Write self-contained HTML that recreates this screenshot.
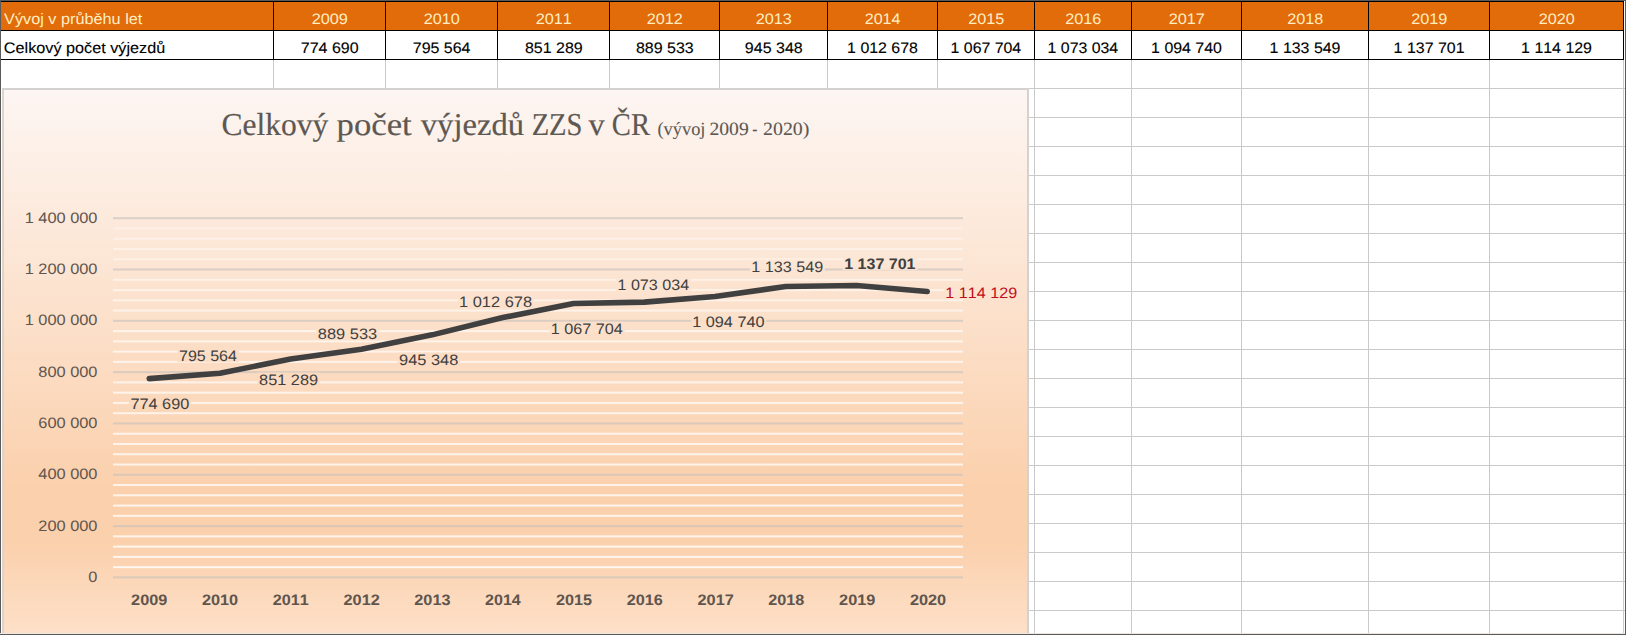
<!DOCTYPE html>
<html><head><meta charset="utf-8"><title>Celkový počet výjezdů ZZS v ČR</title>
<style>html,body{margin:0;padding:0;background:#fff;width:1626px;height:635px;overflow:hidden;font-family:"Liberation Sans",sans-serif;}</style>
</head><body>
<svg width="1626" height="635" viewBox="0 0 1626 635" style="display:block;font-kerning:none;text-rendering:geometricPrecision"><rect x="0" y="0" width="1626" height="635" fill="#ffffff"/>
<rect x="2" y="88" width="1624" height="1" fill="#cacaca"/>
<rect x="2" y="117" width="1624" height="1" fill="#cacaca"/>
<rect x="2" y="146" width="1624" height="1" fill="#cacaca"/>
<rect x="2" y="175" width="1624" height="1" fill="#cacaca"/>
<rect x="2" y="204" width="1624" height="1" fill="#cacaca"/>
<rect x="2" y="233" width="1624" height="1" fill="#cacaca"/>
<rect x="2" y="262" width="1624" height="1" fill="#cacaca"/>
<rect x="2" y="291" width="1624" height="1" fill="#cacaca"/>
<rect x="2" y="320" width="1624" height="1" fill="#cacaca"/>
<rect x="2" y="349" width="1624" height="1" fill="#cacaca"/>
<rect x="2" y="378" width="1624" height="1" fill="#cacaca"/>
<rect x="2" y="407" width="1624" height="1" fill="#cacaca"/>
<rect x="2" y="436" width="1624" height="1" fill="#cacaca"/>
<rect x="2" y="465" width="1624" height="1" fill="#cacaca"/>
<rect x="2" y="494" width="1624" height="1" fill="#cacaca"/>
<rect x="2" y="523" width="1624" height="1" fill="#cacaca"/>
<rect x="2" y="552" width="1624" height="1" fill="#cacaca"/>
<rect x="2" y="581" width="1624" height="1" fill="#cacaca"/>
<rect x="2" y="610" width="1624" height="1" fill="#cacaca"/>
<rect x="273" y="59" width="1" height="576" fill="#cacaca"/>
<rect x="385" y="59" width="1" height="576" fill="#cacaca"/>
<rect x="497" y="59" width="1" height="576" fill="#cacaca"/>
<rect x="609" y="59" width="1" height="576" fill="#cacaca"/>
<rect x="719" y="59" width="1" height="576" fill="#cacaca"/>
<rect x="827" y="59" width="1" height="576" fill="#cacaca"/>
<rect x="937" y="59" width="1" height="576" fill="#cacaca"/>
<rect x="1034" y="59" width="1" height="576" fill="#cacaca"/>
<rect x="1131" y="59" width="1" height="576" fill="#cacaca"/>
<rect x="1241" y="59" width="1" height="576" fill="#cacaca"/>
<rect x="1368" y="59" width="1" height="576" fill="#cacaca"/>
<rect x="1489" y="59" width="1" height="576" fill="#cacaca"/>
<rect x="1623" y="59" width="1" height="576" fill="#cacaca"/>
<rect x="1" y="1" width="1622" height="30" fill="#e26b0a"/>
<rect x="1" y="1" width="1623" height="1" fill="#000"/>
<rect x="1" y="30" width="1623" height="1" fill="#000"/>
<rect x="1" y="59" width="1623" height="1" fill="#000"/>
<rect x="273" y="1" width="1" height="59" fill="#000"/>
<rect x="385" y="1" width="1" height="59" fill="#000"/>
<rect x="497" y="1" width="1" height="59" fill="#000"/>
<rect x="609" y="1" width="1" height="59" fill="#000"/>
<rect x="719" y="1" width="1" height="59" fill="#000"/>
<rect x="827" y="1" width="1" height="59" fill="#000"/>
<rect x="937" y="1" width="1" height="59" fill="#000"/>
<rect x="1034" y="1" width="1" height="59" fill="#000"/>
<rect x="1131" y="1" width="1" height="59" fill="#000"/>
<rect x="1241" y="1" width="1" height="59" fill="#000"/>
<rect x="1368" y="1" width="1" height="59" fill="#000"/>
<rect x="1489" y="1" width="1" height="59" fill="#000"/>
<rect x="1623" y="1" width="1" height="59" fill="#000"/>
<text x="4.13" y="24.10" font-size="15.20" font-family="Liberation Sans" fill="#fff0c4" textLength="138.19" lengthAdjust="spacingAndGlyphs">Vývoj v průběhu let</text>
<text x="3.88" y="52.70" font-size="15.20" font-family="Liberation Sans" fill="#000" textLength="161.30" lengthAdjust="spacingAndGlyphs" stroke="#000" stroke-width="0.12">Celkový počet výjezdů</text>
<text x="311.68" y="23.90" font-size="15.20" font-family="Liberation Sans" fill="#fff0c4" textLength="36.19" lengthAdjust="spacingAndGlyphs">2009</text>
<text x="300.78" y="52.70" font-size="15.20" font-family="Liberation Sans" fill="#000" textLength="57.85" lengthAdjust="spacingAndGlyphs" stroke="#000" stroke-width="0.12">774 690</text>
<text x="423.69" y="23.90" font-size="15.20" font-family="Liberation Sans" fill="#fff0c4" textLength="36.05" lengthAdjust="spacingAndGlyphs">2010</text>
<text x="412.78" y="52.70" font-size="15.20" font-family="Liberation Sans" fill="#000" textLength="57.69" lengthAdjust="spacingAndGlyphs" stroke="#000" stroke-width="0.12">795 564</text>
<text x="535.68" y="23.90" font-size="15.20" font-family="Liberation Sans" fill="#fff0c4" textLength="36.21" lengthAdjust="spacingAndGlyphs">2011</text>
<text x="524.90" y="52.70" font-size="15.20" font-family="Liberation Sans" fill="#000" textLength="57.85" lengthAdjust="spacingAndGlyphs" stroke="#000" stroke-width="0.12">851 289</text>
<text x="646.68" y="23.90" font-size="15.20" font-family="Liberation Sans" fill="#fff0c4" textLength="36.24" lengthAdjust="spacingAndGlyphs">2012</text>
<text x="635.91" y="52.70" font-size="15.20" font-family="Liberation Sans" fill="#000" textLength="57.80" lengthAdjust="spacingAndGlyphs" stroke="#000" stroke-width="0.12">889 533</text>
<text x="755.68" y="23.90" font-size="15.20" font-family="Liberation Sans" fill="#fff0c4" textLength="36.13" lengthAdjust="spacingAndGlyphs">2013</text>
<text x="744.85" y="52.70" font-size="15.20" font-family="Liberation Sans" fill="#000" textLength="57.85" lengthAdjust="spacingAndGlyphs" stroke="#000" stroke-width="0.12">945 348</text>
<text x="864.69" y="23.90" font-size="15.20" font-family="Liberation Sans" fill="#fff0c4" textLength="35.88" lengthAdjust="spacingAndGlyphs">2014</text>
<text x="847.14" y="52.70" font-size="15.20" font-family="Liberation Sans" fill="#000" textLength="70.80" lengthAdjust="spacingAndGlyphs" stroke="#000" stroke-width="0.12">1 012 678</text>
<text x="968.18" y="23.90" font-size="15.20" font-family="Liberation Sans" fill="#fff0c4" textLength="36.10" lengthAdjust="spacingAndGlyphs">2015</text>
<text x="950.64" y="52.70" font-size="15.20" font-family="Liberation Sans" fill="#000" textLength="70.57" lengthAdjust="spacingAndGlyphs" stroke="#000" stroke-width="0.12">1 067 704</text>
<text x="1065.18" y="23.90" font-size="15.20" font-family="Liberation Sans" fill="#fff0c4" textLength="36.13" lengthAdjust="spacingAndGlyphs">2016</text>
<text x="1047.64" y="52.70" font-size="15.20" font-family="Liberation Sans" fill="#000" textLength="70.57" lengthAdjust="spacingAndGlyphs" stroke="#000" stroke-width="0.12">1 073 034</text>
<text x="1168.68" y="23.90" font-size="15.20" font-family="Liberation Sans" fill="#fff0c4" textLength="36.24" lengthAdjust="spacingAndGlyphs">2017</text>
<text x="1151.14" y="52.70" font-size="15.20" font-family="Liberation Sans" fill="#000" textLength="70.73" lengthAdjust="spacingAndGlyphs" stroke="#000" stroke-width="0.12">1 094 740</text>
<text x="1287.18" y="23.90" font-size="15.20" font-family="Liberation Sans" fill="#fff0c4" textLength="36.12" lengthAdjust="spacingAndGlyphs">2018</text>
<text x="1269.64" y="52.70" font-size="15.20" font-family="Liberation Sans" fill="#000" textLength="70.87" lengthAdjust="spacingAndGlyphs" stroke="#000" stroke-width="0.12">1 133 549</text>
<text x="1411.18" y="23.90" font-size="15.20" font-family="Liberation Sans" fill="#fff0c4" textLength="36.19" lengthAdjust="spacingAndGlyphs">2019</text>
<text x="1393.64" y="52.70" font-size="15.20" font-family="Liberation Sans" fill="#000" textLength="70.89" lengthAdjust="spacingAndGlyphs" stroke="#000" stroke-width="0.12">1 137 701</text>
<text x="1538.69" y="23.90" font-size="15.20" font-family="Liberation Sans" fill="#fff0c4" textLength="36.05" lengthAdjust="spacingAndGlyphs">2020</text>
<text x="1521.14" y="52.70" font-size="15.20" font-family="Liberation Sans" fill="#000" textLength="70.87" lengthAdjust="spacingAndGlyphs" stroke="#000" stroke-width="0.12">1 114 129</text>
<defs><linearGradient id="bg" gradientUnits="userSpaceOnUse" x1="0" y1="88" x2="0" y2="633"><stop offset="0" stop-color="#fdf6f3"/><stop offset="0.74" stop-color="#fbd0ac"/><stop offset="0.83" stop-color="#fbd0ac"/><stop offset="1" stop-color="#fde0c8"/></linearGradient><linearGradient id="mg" gradientUnits="userSpaceOnUse" x1="0" y1="218" x2="0" y2="578"><stop offset="0" stop-color="#fff" stop-opacity="0.3"/><stop offset="0.3" stop-color="#fff" stop-opacity="0.65"/><stop offset="1" stop-color="#fff" stop-opacity="0.8"/></linearGradient></defs>
<rect x="2" y="88" width="1027" height="545" fill="#d4d2d0"/>
<rect x="2" y="90" width="2" height="543" fill="#ddd4ce"/>
<rect x="4" y="90" width="1023" height="543" fill="url(#bg)"/>
<text x="221.61" y="134.60" font-size="31.80" font-family="Liberation Serif" fill="#5d5853" textLength="106.71" lengthAdjust="spacingAndGlyphs" stroke="#5d5853" stroke-width="0.2">Celkový</text>
<text x="336.64" y="134.60" font-size="31.80" font-family="Liberation Serif" fill="#5d5853" textLength="75.06" lengthAdjust="spacingAndGlyphs" stroke="#5d5853" stroke-width="0.2">počet</text>
<text x="420.80" y="134.60" font-size="31.80" font-family="Liberation Serif" fill="#5d5853" textLength="103.26" lengthAdjust="spacingAndGlyphs" stroke="#5d5853" stroke-width="0.2">výjezdů</text>
<text x="531.63" y="134.60" font-size="31.80" font-family="Liberation Serif" fill="#5d5853" textLength="50.84" lengthAdjust="spacingAndGlyphs" stroke="#5d5853" stroke-width="0.2">ZZS</text>
<text x="588.40" y="134.60" font-size="31.80" font-family="Liberation Serif" fill="#5d5853" textLength="16.10" lengthAdjust="spacingAndGlyphs" stroke="#5d5853" stroke-width="0.2">v</text>
<text x="611.83" y="134.60" font-size="31.80" font-family="Liberation Serif" fill="#5d5853" textLength="38.11" lengthAdjust="spacingAndGlyphs" stroke="#5d5853" stroke-width="0.2">ČR</text>
<text x="657.49" y="134.60" font-size="18.70" font-family="Liberation Serif" fill="#5d5853" textLength="47.99" lengthAdjust="spacingAndGlyphs" stroke="#5d5853" stroke-width="0.1">(vývoj</text>
<text x="709.44" y="134.60" font-size="18.70" font-family="Liberation Serif" fill="#5d5853" textLength="39.27" lengthAdjust="spacingAndGlyphs" stroke="#5d5853" stroke-width="0.1">2009</text>
<text x="752.13" y="134.60" font-size="18.70" font-family="Liberation Serif" fill="#5d5853" textLength="5.13" lengthAdjust="spacingAndGlyphs" stroke="#5d5853" stroke-width="0.1">-</text>
<text x="763.03" y="134.60" font-size="18.70" font-family="Liberation Serif" fill="#5d5853" textLength="46.45" lengthAdjust="spacingAndGlyphs" stroke="#5d5853" stroke-width="0.1">2020)</text>
<rect x="113" y="566.14" width="850" height="2" fill="url(#mg)"/>
<rect x="113" y="555.87" width="850" height="2" fill="url(#mg)"/>
<rect x="113" y="545.61" width="850" height="2" fill="url(#mg)"/>
<rect x="113" y="535.35" width="850" height="2" fill="url(#mg)"/>
<rect x="113" y="514.82" width="850" height="2" fill="url(#mg)"/>
<rect x="113" y="504.56" width="850" height="2" fill="url(#mg)"/>
<rect x="113" y="494.30" width="850" height="2" fill="url(#mg)"/>
<rect x="113" y="484.03" width="850" height="2" fill="url(#mg)"/>
<rect x="113" y="463.51" width="850" height="2" fill="url(#mg)"/>
<rect x="113" y="453.25" width="850" height="2" fill="url(#mg)"/>
<rect x="113" y="442.98" width="850" height="2" fill="url(#mg)"/>
<rect x="113" y="432.72" width="850" height="2" fill="url(#mg)"/>
<rect x="113" y="412.19" width="850" height="2" fill="url(#mg)"/>
<rect x="113" y="401.93" width="850" height="2" fill="url(#mg)"/>
<rect x="113" y="391.67" width="850" height="2" fill="url(#mg)"/>
<rect x="113" y="381.41" width="850" height="2" fill="url(#mg)"/>
<rect x="113" y="360.88" width="850" height="2" fill="url(#mg)"/>
<rect x="113" y="350.62" width="850" height="2" fill="url(#mg)"/>
<rect x="113" y="340.35" width="850" height="2" fill="url(#mg)"/>
<rect x="113" y="330.09" width="850" height="2" fill="url(#mg)"/>
<rect x="113" y="309.57" width="850" height="2" fill="url(#mg)"/>
<rect x="113" y="299.30" width="850" height="2" fill="url(#mg)"/>
<rect x="113" y="289.04" width="850" height="2" fill="url(#mg)"/>
<rect x="113" y="278.78" width="850" height="2" fill="url(#mg)"/>
<rect x="113" y="258.25" width="850" height="2" fill="url(#mg)"/>
<rect x="113" y="247.99" width="850" height="2" fill="url(#mg)"/>
<rect x="113" y="237.73" width="850" height="2" fill="url(#mg)"/>
<rect x="113" y="227.46" width="850" height="2" fill="url(#mg)"/>
<rect x="113" y="576.40" width="850" height="2" fill="#c4c0bc" fill-opacity="0.6"/>
<rect x="113" y="525.09" width="850" height="2" fill="#c4c0bc" fill-opacity="0.6"/>
<rect x="113" y="473.77" width="850" height="2" fill="#c4c0bc" fill-opacity="0.6"/>
<rect x="113" y="422.46" width="850" height="2" fill="#c4c0bc" fill-opacity="0.6"/>
<rect x="113" y="371.14" width="850" height="2" fill="#c4c0bc" fill-opacity="0.6"/>
<rect x="113" y="319.83" width="850" height="2" fill="#c4c0bc" fill-opacity="0.6"/>
<rect x="113" y="268.51" width="850" height="2" fill="#c4c0bc" fill-opacity="0.6"/>
<rect x="113" y="217.20" width="850" height="2" fill="#c4c0bc" fill-opacity="0.6"/>
<!--y-->
<text x="88.34" y="581.90" font-size="15.10" font-family="Liberation Sans" fill="#5f554d" textLength="9.10" lengthAdjust="spacingAndGlyphs">0</text>
<!--y-->
<text x="38.30" y="530.59" font-size="15.10" font-family="Liberation Sans" fill="#5f554d" textLength="59.14" lengthAdjust="spacingAndGlyphs">200 000</text>
<!--y-->
<text x="38.30" y="479.27" font-size="15.10" font-family="Liberation Sans" fill="#5f554d" textLength="59.14" lengthAdjust="spacingAndGlyphs">400 000</text>
<!--y-->
<text x="38.30" y="427.96" font-size="15.10" font-family="Liberation Sans" fill="#5f554d" textLength="59.14" lengthAdjust="spacingAndGlyphs">600 000</text>
<!--y-->
<text x="38.30" y="376.64" font-size="15.10" font-family="Liberation Sans" fill="#5f554d" textLength="59.14" lengthAdjust="spacingAndGlyphs">800 000</text>
<!--y-->
<text x="24.65" y="325.33" font-size="15.10" font-family="Liberation Sans" fill="#5f554d" textLength="72.79" lengthAdjust="spacingAndGlyphs">1 000 000</text>
<!--y-->
<text x="24.65" y="274.01" font-size="15.10" font-family="Liberation Sans" fill="#5f554d" textLength="72.79" lengthAdjust="spacingAndGlyphs">1 200 000</text>
<!--y-->
<text x="24.65" y="222.70" font-size="15.10" font-family="Liberation Sans" fill="#5f554d" textLength="72.79" lengthAdjust="spacingAndGlyphs">1 400 000</text>
<text x="131.14" y="604.80" font-size="15.10" font-family="Liberation Sans" font-weight="bold" fill="#5f554d" textLength="36.17" lengthAdjust="spacingAndGlyphs">2009</text>
<text x="201.94" y="604.80" font-size="15.10" font-family="Liberation Sans" font-weight="bold" fill="#5f554d" textLength="36.23" lengthAdjust="spacingAndGlyphs">2010</text>
<text x="272.74" y="604.80" font-size="15.10" font-family="Liberation Sans" font-weight="bold" fill="#5f554d" textLength="36.01" lengthAdjust="spacingAndGlyphs">2011</text>
<text x="343.54" y="604.80" font-size="15.10" font-family="Liberation Sans" font-weight="bold" fill="#5f554d" textLength="36.22" lengthAdjust="spacingAndGlyphs">2012</text>
<text x="414.34" y="604.80" font-size="15.10" font-family="Liberation Sans" font-weight="bold" fill="#5f554d" textLength="36.15" lengthAdjust="spacingAndGlyphs">2013</text>
<text x="485.14" y="604.80" font-size="15.10" font-family="Liberation Sans" font-weight="bold" fill="#5f554d" textLength="35.64" lengthAdjust="spacingAndGlyphs">2014</text>
<text x="555.94" y="604.80" font-size="15.10" font-family="Liberation Sans" font-weight="bold" fill="#5f554d" textLength="36.01" lengthAdjust="spacingAndGlyphs">2015</text>
<text x="626.74" y="604.80" font-size="15.10" font-family="Liberation Sans" font-weight="bold" fill="#5f554d" textLength="36.15" lengthAdjust="spacingAndGlyphs">2016</text>
<text x="697.53" y="604.80" font-size="15.10" font-family="Liberation Sans" font-weight="bold" fill="#5f554d" textLength="36.28" lengthAdjust="spacingAndGlyphs">2017</text>
<text x="768.34" y="604.80" font-size="15.10" font-family="Liberation Sans" font-weight="bold" fill="#5f554d" textLength="36.06" lengthAdjust="spacingAndGlyphs">2018</text>
<text x="839.14" y="604.80" font-size="15.10" font-family="Liberation Sans" font-weight="bold" fill="#5f554d" textLength="36.17" lengthAdjust="spacingAndGlyphs">2019</text>
<text x="909.94" y="604.80" font-size="15.10" font-family="Liberation Sans" font-weight="bold" fill="#5f554d" textLength="36.23" lengthAdjust="spacingAndGlyphs">2020</text>
<polyline points="149.20,378.64 219.93,373.28 290.66,358.98 361.39,349.17 432.12,334.85 502.85,317.58 573.58,303.46 644.31,302.09 715.04,296.52 785.77,286.56 856.50,285.50 927.23,291.55" fill="none" stroke="#404040" stroke-width="5.6" stroke-linecap="round" stroke-linejoin="round"/>
<rect x="128.8" y="396.4" width="62.3" height="13.7" fill="url(#bg)" fill-opacity="0.85"/>
<rect x="177.3" y="348.6" width="61.7" height="13.7" fill="url(#bg)" fill-opacity="0.85"/>
<rect x="257.3" y="372.5" width="62.5" height="13.7" fill="url(#bg)" fill-opacity="0.85"/>
<rect x="316.1" y="326.5" width="62.8" height="13.7" fill="url(#bg)" fill-opacity="0.85"/>
<rect x="397.3" y="352.7" width="62.8" height="13.7" fill="url(#bg)" fill-opacity="0.85"/>
<rect x="457.8" y="294.6" width="76.1" height="13.7" fill="url(#bg)" fill-opacity="0.85"/>
<rect x="549.5" y="321.7" width="75.3" height="13.7" fill="url(#bg)" fill-opacity="0.85"/>
<rect x="616.2" y="277.8" width="75.0" height="13.7" fill="url(#bg)" fill-opacity="0.85"/>
<rect x="691.0" y="314.6" width="75.4" height="13.7" fill="url(#bg)" fill-opacity="0.85"/>
<rect x="750.0" y="259.6" width="74.9" height="13.7" fill="url(#bg)" fill-opacity="0.85"/>
<rect x="842.7" y="256.5" width="74.9" height="13.7" fill="url(#bg)" fill-opacity="0.85"/>
<rect x="944.0" y="285.6" width="74.9" height="13.7" fill="url(#bg)" fill-opacity="0.85"/>
<text x="130.47" y="408.60" font-size="15.10" font-family="Liberation Sans" fill="#404040" textLength="58.77" lengthAdjust="spacingAndGlyphs">774 690</text>
<text x="178.98" y="360.80" font-size="15.10" font-family="Liberation Sans" fill="#404040" textLength="57.99" lengthAdjust="spacingAndGlyphs">795 564</text>
<text x="259.09" y="384.70" font-size="15.10" font-family="Liberation Sans" fill="#404040" textLength="58.98" lengthAdjust="spacingAndGlyphs">851 289</text>
<text x="317.89" y="338.70" font-size="15.10" font-family="Liberation Sans" fill="#404040" textLength="59.23" lengthAdjust="spacingAndGlyphs">889 533</text>
<text x="399.03" y="364.90" font-size="15.10" font-family="Liberation Sans" fill="#404040" textLength="59.28" lengthAdjust="spacingAndGlyphs">945 348</text>
<text x="459.05" y="306.80" font-size="15.10" font-family="Liberation Sans" fill="#404040" textLength="73.06" lengthAdjust="spacingAndGlyphs">1 012 678</text>
<text x="550.77" y="333.90" font-size="15.10" font-family="Liberation Sans" fill="#404040" textLength="72.01" lengthAdjust="spacingAndGlyphs">1 067 704</text>
<text x="617.47" y="290.00" font-size="15.10" font-family="Liberation Sans" fill="#404040" textLength="71.70" lengthAdjust="spacingAndGlyphs">1 073 034</text>
<text x="692.26" y="326.80" font-size="15.10" font-family="Liberation Sans" fill="#404040" textLength="72.27" lengthAdjust="spacingAndGlyphs">1 094 740</text>
<text x="751.27" y="271.80" font-size="15.10" font-family="Liberation Sans" fill="#404040" textLength="71.90" lengthAdjust="spacingAndGlyphs">1 133 549</text>
<text x="844.19" y="268.70" font-size="15.10" font-family="Liberation Sans" font-weight="bold" fill="#404040" textLength="71.36" lengthAdjust="spacingAndGlyphs">1 137 701</text>
<text x="945.27" y="297.80" font-size="15.10" font-family="Liberation Sans" fill="#c20e1a" textLength="71.90" lengthAdjust="spacingAndGlyphs">1 114 129</text>
<rect x="0" y="0" width="1626" height="1" fill="#5a5a5a"/>
<rect x="0" y="0" width="1" height="635" fill="#5a5a5a"/>
<rect x="0" y="633" width="1626" height="1" fill="#ece6e2"/>
<rect x="0" y="634" width="1626" height="1" fill="#5a5a5a"/>
<rect x="1625" y="0" width="1" height="635" fill="#5a5a5a"/></svg>
</body></html>
